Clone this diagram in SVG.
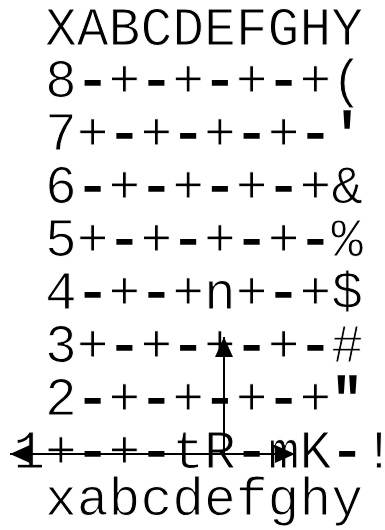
<svg xmlns="http://www.w3.org/2000/svg" width="385" height="530" viewBox="0 0 385 530">
<style>
.t{font-family:"Liberation Mono","Courier New",monospace;font-size:53px;fill:#000;stroke:#fff;stroke-width:1;text-anchor:middle}
.h{stroke:#000;stroke-width:1.6}
.c{stroke:#000;stroke-width:2;fill:none}
</style>
<defs>
<marker id="ah" markerUnits="userSpaceOnUse" markerWidth="20" markerHeight="18" refX="20" refY="9" orient="auto">
<path d="M0,0 L20,9 L0,18 Z" fill="#000"/>
</marker>
</defs>
<g id="board">
<text class="t" x="204" y="45">XABCDEFGHY</text>
<text class="t" x="204" y="97">8<tspan class="h">-</tspan>+<tspan class="h">-</tspan>+<tspan class="h">-</tspan>+<tspan class="h">-</tspan>+(</text>
<text class="t" x="204" y="150">7+<tspan class="h">-</tspan>+<tspan class="h">-</tspan>+<tspan class="h">-</tspan>+<tspan class="h">-'</tspan></text>
<text class="t" x="204" y="203">6<tspan class="h">-</tspan>+<tspan class="h">-</tspan>+<tspan class="h">-</tspan>+<tspan class="h">-</tspan>+&amp;</text>
<text class="t" x="204" y="256">5+<tspan class="h">-</tspan>+<tspan class="h">-</tspan>+<tspan class="h">-</tspan>+<tspan class="h">-</tspan>%</text>
<text class="t" x="204" y="309">4<tspan class="h">-</tspan>+<tspan class="h">-</tspan>+n+<tspan class="h">-</tspan>+$</text>
<text class="t" x="204" y="362">3+<tspan class="h">-</tspan>+<tspan class="h">-</tspan>+<tspan class="h">-</tspan>+<tspan class="h">-</tspan>#</text>
<text class="t" x="204" y="415">2<tspan class="h">-</tspan>+<tspan class="h">-</tspan>+<tspan class="h">-</tspan>+<tspan class="h">-</tspan>+<tspan class="h">"</tspan></text>
<text class="t" x="204" y="468">1+<tspan class="h">-</tspan>+<tspan class="h">-</tspan>tR<tspan class="h">-</tspan>mK<tspan class="h">-</tspan>!</text>
<text class="t" x="204" y="515">xabcdefghy</text>
</g>
<g id="connectors">
<path class="c" d="M224,454 L10,454" marker-end="url(#ah)"/>
<path class="c" d="M224,454 L295,454" marker-end="url(#ah)"/>
<path class="c" d="M224,454 L224,337" marker-end="url(#ah)"/>
</g>
</svg>
